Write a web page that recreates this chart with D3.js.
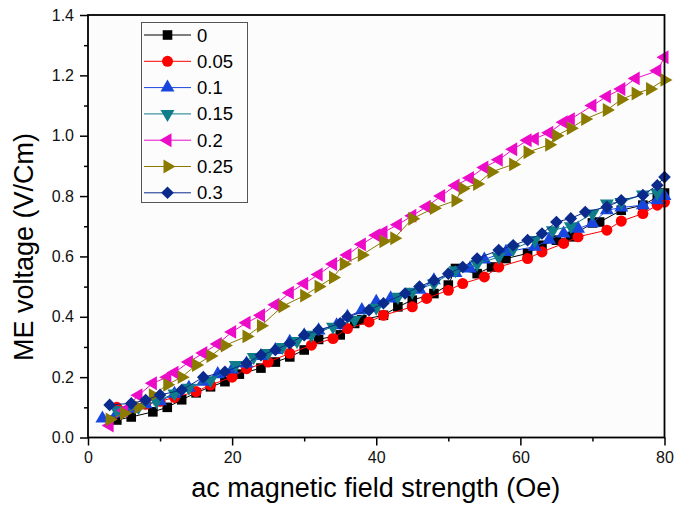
<!DOCTYPE html>
<html>
<head>
<meta charset="utf-8">
<script src="https://cdn.jsdelivr.net/npm/d3@7"></script>
<style>
  html, body { margin: 0; padding: 0; background: #ffffff; }
  svg { display: block; font-family: "Liberation Sans", Arial, sans-serif; }
</style>
</head>
<body>
<svg id="chart" width="688" height="511"></svg>
<script>
// ---- data ----
const seriesNames = ["0", "0.05", "0.1", "0.15", "0.2", "0.25", "0.3"];

const x0  = [4, 6, 9, 11, 13, 15, 17, 19, 21, 24, 26, 28, 30, 32, 35, 37, 38, 41, 43, 45, 48, 50, 51, 54, 56, 58, 61, 63, 65, 67, 70, 71, 74, 77, 79, 80];
const y0  = [0.058, 0.068, 0.085, 0.10, 0.125, 0.148, 0.168, 0.185, 0.21, 0.23, 0.25, 0.267, 0.29, 0.325, 0.34, 0.378, 0.39, 0.405, 0.433, 0.455, 0.477, 0.505, 0.56, 0.543, 0.565, 0.593, 0.61, 0.637, 0.654, 0.665, 0.711, 0.714, 0.753, 0.77, 0.797, 0.81];

const x05 = [4, 6, 8, 10, 12, 15, 17, 20, 22, 25, 28, 31, 34, 36, 39, 41, 45, 47, 50, 52, 55, 57, 61, 63, 66, 68, 72, 74, 77, 79, 80];
const y05 = [0.10, 0.10, 0.11, 0.12, 0.133, 0.152, 0.174, 0.20, 0.228, 0.25, 0.279, 0.306, 0.328, 0.361, 0.383, 0.405, 0.433, 0.461, 0.488, 0.51, 0.532, 0.565, 0.593, 0.615, 0.643, 0.665, 0.687, 0.717, 0.742, 0.77, 0.78];

const x10 = [2, 4, 6, 8, 10, 12, 14, 16, 18, 20, 22, 24, 26, 28, 30, 32, 34.5, 36, 38, 40, 42, 46, 48, 51, 53, 55, 58, 62, 64, 66, 68, 70, 72, 74, 77, 79, 80];
const y10 = [0.063, 0.08, 0.095, 0.11, 0.12, 0.145, 0.165, 0.185, 0.21, 0.225, 0.245, 0.27, 0.29, 0.317, 0.339, 0.355, 0.372, 0.40, 0.422, 0.45, 0.461, 0.49, 0.521, 0.545, 0.56, 0.59, 0.615, 0.632, 0.655, 0.676, 0.692, 0.71, 0.753, 0.762, 0.77, 0.786, 0.80];

const x15 = [4, 7, 9.5, 12, 14, 17, 20.5, 23, 25, 27, 29, 31, 34, 37, 40, 43, 45, 48, 51, 54, 57, 59, 62, 64.5, 67, 70, 72, 74, 77, 79];
const y15 = [0.09, 0.10, 0.12, 0.146, 0.165, 0.19, 0.24, 0.267, 0.28, 0.30, 0.32, 0.34, 0.367, 0.39, 0.43, 0.466, 0.483, 0.51, 0.554, 0.575, 0.598, 0.625, 0.654, 0.687, 0.70, 0.742, 0.775, 0.78, 0.805, 0.81];

const x20 = [3, 5, 7, 9, 11, 12, 14, 16, 18, 20, 22, 24, 26, 28, 30, 32, 34, 36, 38, 40, 41, 43, 45, 47, 49, 51, 53, 55, 57, 59, 61, 62, 64, 66, 67, 70, 72, 74, 76, 79, 80];
const y20 = [0.04, 0.09, 0.14, 0.18, 0.20, 0.215, 0.25, 0.28, 0.31, 0.35, 0.38, 0.405, 0.44, 0.48, 0.51, 0.54, 0.575, 0.605, 0.64, 0.67, 0.68, 0.705, 0.735, 0.765, 0.80, 0.835, 0.86, 0.895, 0.92, 0.955, 0.985, 0.99, 1.01, 1.045, 1.055, 1.10, 1.13, 1.155, 1.19, 1.215, 1.26];

const x25 = [3, 5, 7, 9, 11, 13, 15, 17, 19, 22, 24, 27, 30, 32, 34, 35.5, 38, 41, 42.5, 45, 48, 51, 52, 54, 56, 59, 61, 64, 65, 67, 69, 72, 74, 76, 78, 80];
const y25 = [0.06, 0.08, 0.10, 0.14, 0.175, 0.20, 0.24, 0.27, 0.305, 0.335, 0.37, 0.435, 0.47, 0.50, 0.53, 0.575, 0.605, 0.65, 0.66, 0.725, 0.76, 0.785, 0.825, 0.84, 0.88, 0.905, 0.945, 0.97, 1.0, 1.025, 1.055, 1.085, 1.12, 1.14, 1.155, 1.185];

const x30 = [3, 6, 8, 10, 13, 16, 19, 22, 24, 26, 28, 30, 32, 35, 36, 39, 41, 44, 46, 48, 50, 52, 54, 57, 59, 61, 63, 65, 67, 69, 72, 74, 77, 79, 80];
const y30 = [0.108, 0.113, 0.124, 0.141, 0.157, 0.20, 0.218, 0.246, 0.273, 0.29, 0.312, 0.339, 0.356, 0.378, 0.40, 0.422, 0.445, 0.477, 0.50, 0.52, 0.543, 0.565, 0.593, 0.621, 0.637, 0.654, 0.676, 0.714, 0.726, 0.747, 0.764, 0.786, 0.803, 0.836, 0.863];

const xTicks = [0, 20, 40, 60, 80];
const yTicks = [0.0, 0.2, 0.4, 0.6, 0.8, 1.0, 1.2, 1.4];
const xTitle = "ac magnetic field strength (Oe)";
const yTitle = "ME voltage (V/Cm)";

// ---- styles ----
const colors = ["#000000", "#ff0000", "#1846dc", "#0f7d8a", "#ec0cc8", "#8a7a00", "#0a2a8c"];
const shapes = ["square", "circle", "triUp", "triDown", "triLeft", "triRight", "diamond"];
const seriesX = [x0, x05, x10, x15, x20, x25, x30];
const seriesY = [y0, y05, y10, y15, y20, y25, y30];

const series = seriesNames.map((name, i) => ({
  name, color: colors[i], shape: shapes[i],
  points: seriesX[i].map((x, j) => ({x, y: seriesY[i][j]}))
}));

// ---- layout ----
const svg = d3.select("#chart");
const L = 88, R = 664.5, T = 15, B = 437.5;
const xScale = d3.scaleLinear().domain([0, 80]).range([L, R]);
const yScale = d3.scaleLinear().domain([0, 1.4]).range([B, T]);

svg.append("rect").attr("x", 0).attr("y", 0).attr("width", 688).attr("height", 511).attr("fill", "#ffffff");
svg.append("rect").attr("x", L).attr("y", T).attr("width", R - L).attr("height", B - T).attr("fill", "#fcfcfc");

function symbolPath(shape) {
  const gen = d3.symbol();
  switch (shape) {
    case "square": return {d: gen.type(d3.symbolSquare).size(92)(), rot: 0};
    case "circle": return {d: gen.type(d3.symbolCircle).size(96)(), rot: 0};
    case "triUp": return {d: gen.type(d3.symbolTriangle).size(84)(), rot: 0};
    case "triDown": return {d: gen.type(d3.symbolTriangle).size(84)(), rot: 180};
    case "triLeft": return {d: gen.type(d3.symbolTriangle).size(84)(), rot: -90};
    case "triRight": return {d: gen.type(d3.symbolTriangle).size(84)(), rot: 90};
    case "diamond": return {d: gen.type(d3.symbolSquare).size(80)(), rot: 45};
  }
}

const plot = svg.append("g");
const line = d3.line().x(d => xScale(d.x)).y(d => yScale(d.y));

series.forEach(s => {
  const g = plot.append("g");
  g.append("path").datum(s.points).attr("d", line)
    .attr("fill", "none").attr("stroke", s.color).attr("stroke-width", 1);
  const sp = symbolPath(s.shape);
  g.selectAll("path.m").data(s.points).enter().append("path").attr("class", "m")
    .attr("d", sp.d).attr("fill", s.color)
    .attr("transform", d => `translate(${xScale(d.x)},${yScale(d.y)}) rotate(${sp.rot})`);
});

// ---- axes ----
const xAxis = d3.axisBottom(xScale).tickValues(xTicks).tickSize(8).tickPadding(6).tickFormat(d3.format("d"));
const yAxis = d3.axisLeft(yScale).tickValues(yTicks).tickSize(8).tickPadding(6).tickFormat(d3.format(".1f"));
const xMinor = d3.axisBottom(xScale).tickValues([10, 30, 50, 70]).tickSize(4).tickFormat("");
const yMinor = d3.axisLeft(yScale).tickValues([0.1, 0.3, 0.5, 0.7, 0.9, 1.1, 1.3]).tickSize(4).tickFormat("");

function styleAxis(g) {
  g.select(".domain").remove();
  g.selectAll("line").attr("stroke", "#000").attr("stroke-width", 1.5);
  g.selectAll("text").attr("fill", "#111").style("font-size", "16px")
    .style("font-family", "'Liberation Sans', Arial, sans-serif");
}
svg.append("g").attr("transform", `translate(0,${B})`).call(xAxis).call(styleAxis);
svg.append("g").attr("transform", `translate(0,${B})`).call(xMinor).call(styleAxis);
svg.append("g").attr("transform", `translate(${L},0)`).call(yAxis).call(styleAxis);
svg.append("g").attr("transform", `translate(${L},0)`).call(yMinor).call(styleAxis);

// frame
svg.append("rect").attr("x", L).attr("y", T).attr("width", R - L).attr("height", B - T)
  .attr("fill", "none").attr("stroke", "#000").attr("stroke-width", 1.8);

// titles
svg.append("text").attr("x", (L + R) / 2 - 0.5).attr("y", 497).attr("text-anchor", "middle")
  .style("font-size", "27px").attr("fill", "#000").text(xTitle);
svg.append("text").attr("transform", "translate(33,247) rotate(-90)").attr("text-anchor", "middle")
  .style("font-size", "27px").attr("fill", "#000").text(yTitle);

// ---- legend ----
const lg = svg.append("g");
lg.append("rect").attr("x", 141.5).attr("y", 22.5).attr("width", 106).attr("height", 180)
  .attr("fill", "#fcfcfc").attr("stroke", "#555").attr("stroke-width", 1);
series.forEach((s, i) => {
  const cy = 35 + i * 26.3;
  lg.append("line").attr("x1", 144).attr("x2", 191).attr("y1", cy).attr("y2", cy)
    .attr("stroke", s.color).attr("stroke-width", 1);
  const sp = symbolPath(s.shape);
  lg.append("path").attr("d", sp.d).attr("fill", s.color)
    .attr("transform", `translate(167.5,${cy}) rotate(${sp.rot})`);
  lg.append("text").attr("x", 197).attr("y", cy + 6.5).style("font-size", "18.5px")
    .attr("fill", "#000").text(s.name);
});
</script>
</body>
</html>
